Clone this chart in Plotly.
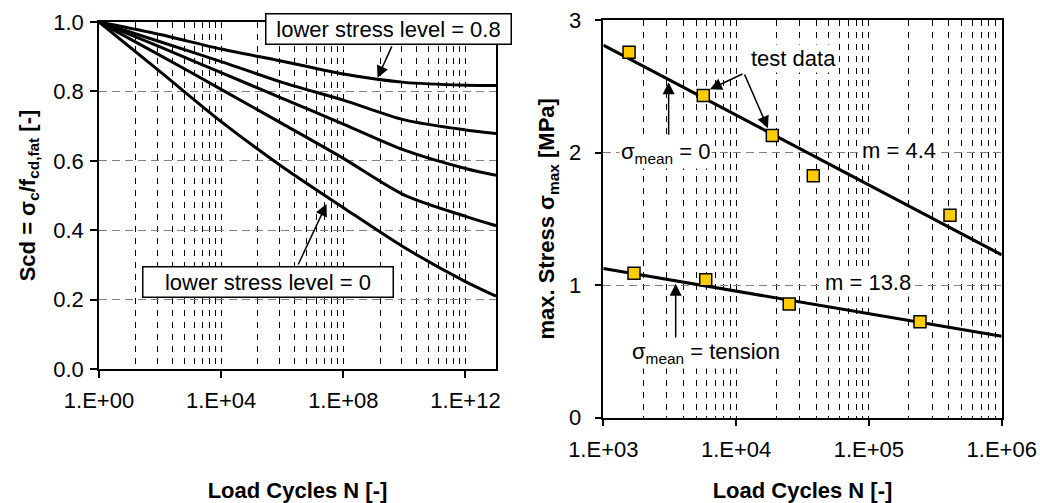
import plotly.graph_objects as go

FONT = "Arial, 'Liberation Sans', sans-serif"
FS = 22

# ---------------- Left chart data (S-N curves) ----------------
cycles_left = [1e0, 1e2, 1e4, 1e6, 1e8, 1e10, 1e12, 1e13]
scd_min_080 = [1.0, 0.964, 0.922, 0.887, 0.850, 0.826, 0.818, 0.817]
scd_min_060 = [1.0, 0.943, 0.886, 0.826, 0.775, 0.718, 0.689, 0.679]
scd_min_040 = [1.0, 0.928, 0.854, 0.780, 0.706, 0.631, 0.578, 0.558]
scd_min_020 = [1.0, 0.904, 0.806, 0.707, 0.607, 0.501, 0.440, 0.413]
scd_min_000 = [1.0, 0.857, 0.713, 0.583, 0.465, 0.350, 0.252, 0.210]
left_xticks = [1e0, 1e4, 1e8, 1e12]
left_xticktext = ["1.E+00", "1.E+04", "1.E+08", "1.E+12"]
left_yticks = [0.0, 0.2, 0.4, 0.6, 0.8, 1.0]

# ---------------- Right chart data (test data + fits) ----------------
test0_n = [1563, 5662, 18740, 38120, 408000]
test0_s = [2.757, 2.43, 2.129, 1.826, 1.528]
testT_n = [1703, 5904, 25120, 242600]
testT_s = [1.089, 1.04, 0.857, 0.724]
fit_n = [1e3, 1e6]
fit0_s = [2.81, 1.228]
fitT_s = [1.125, 0.614]
right_xticks = [1e3, 1e4, 1e5, 1e6]
right_xticktext = ["1.E+03", "1.E+04", "1.E+05", "1.E+06"]
right_yticks = [0, 1, 2, 3]

# minor grid positions
left_minor = [k ** 4 * 10 ** (4 * b) for b in range(3) for k in range(2, 10)]
right_minor = [k * 10 ** d for d in range(3, 6) for k in range(2, 10)]

fig = go.Figure()
line_style = dict(color="black", width=3)
for ys in [scd_min_080, scd_min_060, scd_min_040, scd_min_020, scd_min_000]:
    fig.add_trace(go.Scatter(x=cycles_left, y=ys, mode="lines", line=dict(shape="spline", smoothing=0.8, **line_style),
                             xaxis="x", yaxis="y", showlegend=False, hoverinfo="skip"))

fig.add_trace(go.Scatter(x=fit_n, y=fit0_s, mode="lines", line=line_style, xaxis="x2", yaxis="y2", showlegend=False))
fig.add_trace(go.Scatter(x=fit_n, y=fitT_s, mode="lines", line=line_style, xaxis="x2", yaxis="y2", showlegend=False))
sq = dict(symbol="square", size=12, color="#FFCC00", line=dict(color="black", width=1.5))
fig.add_trace(go.Scatter(x=test0_n, y=test0_s, mode="markers", marker=sq, xaxis="x2", yaxis="y2", showlegend=False, cliponaxis=False))
fig.add_trace(go.Scatter(x=testT_n, y=testT_s, mode="markers", marker=sq, xaxis="x2", yaxis="y2", showlegend=False, cliponaxis=False))

W, H = 1040, 503
axis_common = dict(showline=True, mirror=True, linecolor="black", linewidth=1.5,
                   ticks="outside", ticklen=7, tickwidth=1.5, tickcolor="black",
                   tickfont=dict(family=FONT, size=FS, color="black"), automargin=False, zeroline=False)
vgrid = dict(showgrid=True, gridcolor="#000000", gridwidth=1, griddash="6px,6px")
hgrid = dict(showgrid=True, gridcolor="#808080", gridwidth=1, griddash="8px,5px")

fig.update_layout(
    width=W, height=H, margin=dict(l=0, r=0, t=0, b=0),
    paper_bgcolor="white", plot_bgcolor="white",
    font=dict(family=FONT, size=FS, color="black"),
    xaxis=dict(type="log", range=[0, 13], domain=[99 / W, 496 / W], anchor="y",
               tickvals=left_xticks, ticktext=left_xticktext, ticklabelstandoff=4,
               minor=dict(tickmode="array", tickvals=left_minor, ticks="", **vgrid),
               title=dict(text="<b>Load Cycles N [-]</b>", standoff=74, font=dict(family=FONT, size=FS)),
               **vgrid, **axis_common),
    yaxis=dict(range=[0, 1], domain=[(H - 369) / H, (H - 22) / H], anchor="x",
               tickvals=left_yticks, tickformat=".1f", ticklabelstandoff=2,
               title=dict(text="<b>Scd = σ<sub>c</sub>/f<sub>cd,fat</sub> [-]</b>", standoff=12, font=dict(family=FONT, size=FS)),
               **hgrid, **axis_common),
    xaxis2=dict(type="log", range=[3, 6], domain=[603.3 / W, 1001.7 / W], anchor="y2",
                tickvals=right_xticks, ticktext=right_xticktext, ticklabelstandoff=4,
                minor=dict(tickmode="array", tickvals=right_minor, ticks="", **vgrid),
                title=dict(text="<b>Load Cycles N [-]</b>", standoff=25, font=dict(family=FONT, size=FS)),
                **vgrid, **axis_common),
    yaxis2=dict(range=[0, 3], domain=[(H - 417.7) / H, (H - 20) / H], anchor="x2",
                tickvals=right_yticks, ticklabelstandoff=9,
                title=dict(text="<b>max. Stress σ<sub>max</sub> [MPa]</b>", standoff=8, font=dict(family=FONT, size=FS)),
                **hgrid, **axis_common),
)

def arrow(x, y, ax, ay, xr, yr):
    fig.add_annotation(x=x, y=y, ax=ax, ay=ay, xref=xr, yref=yr, text="", showarrow=True,
                       arrowhead=2, arrowsize=1.6, arrowwidth=1.5, arrowcolor="black", standoff=0)

def label(text, x, y, xr, yr, border=False, width=None):
    kw = dict(bordercolor="black", borderwidth=1.5, borderpad=2) if border else dict(borderpad=1)
    if width:
        kw["width"] = width
    fig.add_annotation(x=x, y=y, xref=xr, yref=yr, text=text, showarrow=False, bgcolor="white",
                       font=dict(family=FONT, size=FS, color="black"), align="center", **kw)

# left annotations
arrow(9.12, 0.839, 15, -33, "x", "y")
arrow(7.45, 0.4755, -29, 62, "x", "y")
label("lower stress level = 0.8", 9.49, 0.980, "x", "y", border=True, width=240)
label("lower stress level = 0", 5.52, 0.252, "x", "y", border=True, width=245)

# right annotations
arrow(3.803, 2.477, 34, -16, "x2", "y2")
arrow(4.24, 2.184, -24, -55, "x2", "y2")
arrow(3.492, 2.53, 0, 54, "x2", "y2")
arrow(3.545, 1.01, 0, 58, "x2", "y2")
label("test data", 4.434, 2.71, "x2", "y2")
label("σ<sub>mean</sub> = 0", 3.47, 2.0, "x2", "y2")
label("m = 4.4", 5.226, 2.019, "x2", "y2")
label("m = 13.8", 4.992, 1.02, "x2", "y2")
label("σ<sub>mean</sub> = tension", 3.77, 0.486, "x2", "y2")

fig.write_html("out.html")
